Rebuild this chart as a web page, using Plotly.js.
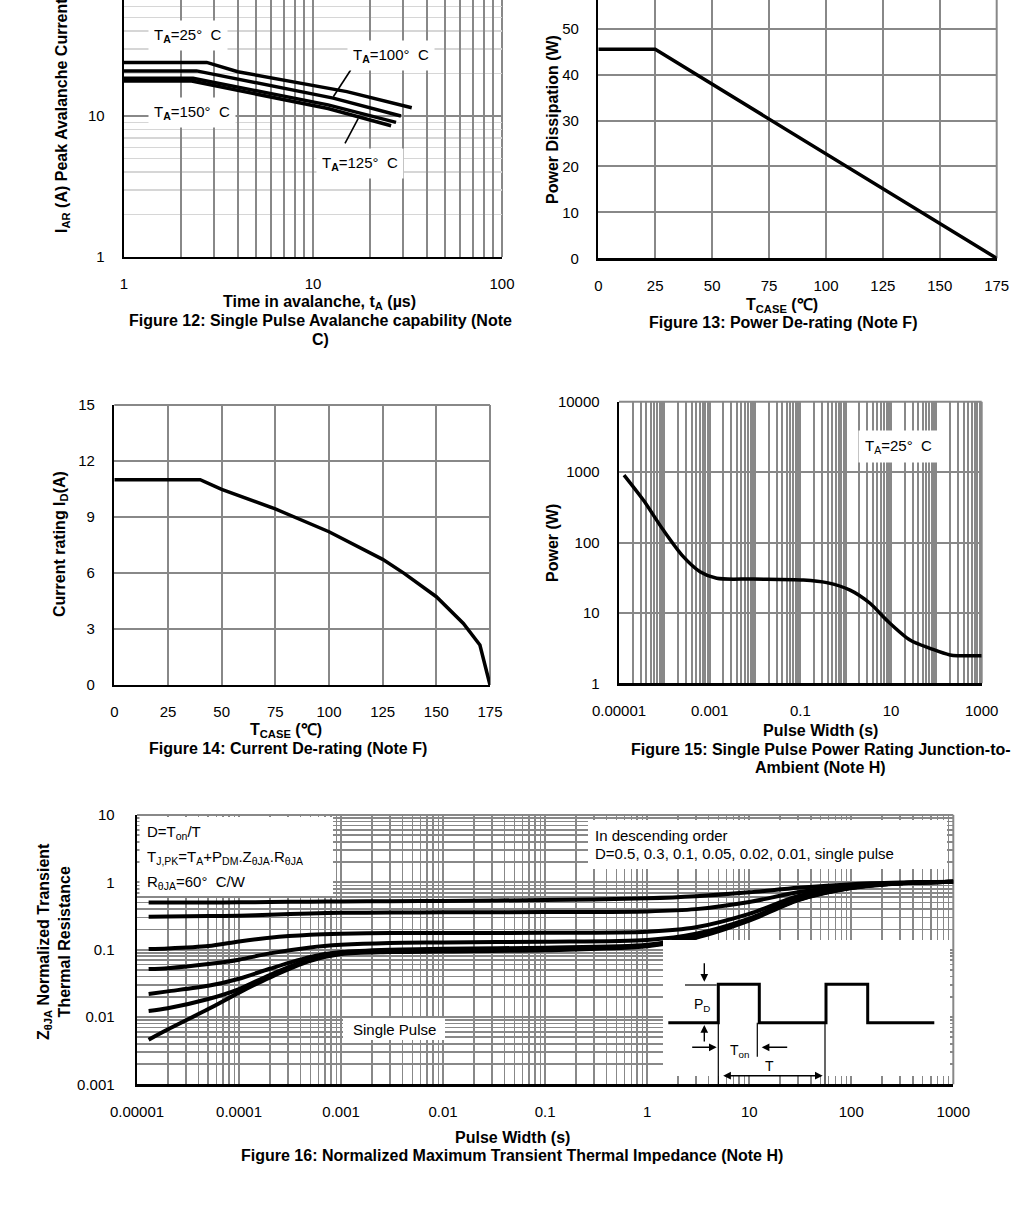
<!DOCTYPE html>
<html><head><meta charset="utf-8">
<script src="https://cdn.plot.ly/plotly-3.0.1.min.js"></script>
<style>html,body{margin:0;padding:0;background:#fff}</style>
</head><body><div id="chart" style="width:1029px;height:1209px"></div>
<script>
// ---------- Figure 12: Single pulse avalanche capability ----------
const f12_t25  = [1, 2.74, 4.0, 15.1, 33.3];
const f12_i25  = [24.0, 24.0, 20.6, 14.9, 11.45];
const f12_t100 = [1, 2.42, 12.8, 29.2];
const f12_i100 = [20.9, 20.9, 13.4, 10.0];
const f12_t125 = [1, 2.32, 12.0, 27.5];
const f12_i125 = [18.5, 18.5, 12.0, 9.02];
const f12_t150 = [1, 2.28, 12.0, 25.9];
const f12_i150 = [17.7, 17.7, 11.3, 8.54];
const f12_xlabels = [1, 10, 100];
const f12_ylabels = [1, 10];

// ---------- Figure 13: Power de-rating ----------
const f13_T = [0, 25, 175];
const f13_P = [45.5, 45.5, 0];
const f13_xticks = [0, 25, 50, 75, 100, 125, 150, 175];
const f13_yticks = [0, 10, 20, 30, 40, 50];

// ---------- Figure 14: Current de-rating ----------
const f14_T = [0, 40, 50, 75, 100, 125, 135, 150, 162.6, 170.3, 175];
const f14_I = [11, 11, 10.48, 9.43, 8.21, 6.73, 5.98, 4.73, 3.30, 2.14, 0];
const f14_xticks = [0, 25, 50, 75, 100, 125, 150, 175];
const f14_yticks = [0, 3, 6, 9, 12, 15];

// ---------- Figure 15: Single pulse power rating ----------
const f15_t = [1.29e-5, 3.44e-5, 9.5e-5, 2.62e-4, 6.12e-4, 1.43e-3, 9.2e-3, 0.116, 0.381, 1.25, 3.44, 8.0, 26.2, 72.4, 200, 1000];
const f15_p = [908, 401, 150, 62.9, 38.5, 31, 30.3, 29.3, 26.9, 21.1, 13.7, 7.9, 4.12, 3.14, 2.53, 2.47];
const f15_xlabels = [1e-5, 1e-3, 0.1, 10, 1000];
const f15_xlabeltext = ['0.00001', '0.001', '0.1', '10', '1000'];
const f15_ylabels = [1, 10, 100, 1000, 10000];

// ---------- Figure 16: Normalized transient thermal impedance ----------
const f16_t    = [1.3e-5, 2e-5, 5e-5, 1e-4, 2e-4, 5e-4, 1e-3, 3e-3, 1e-2, 0.1, 1, 3, 10, 30, 100, 300, 1000];
const f16_d05  = [0.50, 0.50, 0.50, 0.505, 0.51, 0.515, 0.52, 0.525, 0.53, 0.546, 0.578, 0.62, 0.71, 0.83, 0.94, 0.99, 1.02];
const f16_d03  = [0.308, 0.31, 0.315, 0.32, 0.33, 0.345, 0.352, 0.355, 0.358, 0.362, 0.37, 0.40, 0.51, 0.71, 0.88, 0.97, 1.02];
const f16_d01  = [0.102, 0.104, 0.113, 0.132, 0.150, 0.166, 0.172, 0.176, 0.177, 0.178, 0.185, 0.215, 0.34, 0.62, 0.86, 0.97, 1.02];
const f16_d005 = [0.0515, 0.053, 0.061, 0.071, 0.088, 0.108, 0.118, 0.126, 0.128, 0.131, 0.139, 0.172, 0.29, 0.57, 0.84, 0.97, 1.02];
const f16_d002 = [0.022, 0.024, 0.029, 0.037, 0.052, 0.078, 0.092, 0.100, 0.103, 0.107, 0.118, 0.16, 0.28, 0.56, 0.83, 0.97, 1.02];
const f16_d001 = [0.0123, 0.0135, 0.0185, 0.026, 0.042, 0.072, 0.088, 0.096, 0.099, 0.103, 0.115, 0.155, 0.28, 0.55, 0.83, 0.97, 1.02];
const f16_sp   = [0.0046, 0.0065, 0.0131, 0.023, 0.0385, 0.068, 0.086, 0.092, 0.094, 0.098, 0.112, 0.15, 0.27, 0.54, 0.82, 0.96, 1.02];
const f16_xlabels = [1e-5, 1e-4, 1e-3, 1e-2, 0.1, 1, 10, 100, 1000];
const f16_xlabeltext = ['0.00001', '0.0001', '0.001', '0.01', '0.1', '1', '10', '100', '1000'];
const f16_ylabels = [0.001, 0.01, 0.1, 1, 10];
const f16_ylabeltext = ['0.001', '0.01', '0.1', '1', '10'];

// ---------- helpers ----------
const W = 1029, H = 1209;
const FONT = 'Liberation Sans, Arial, Helvetica, sans-serif';
const GRID = '#888888';
const GW = 2;
const xd = (a, b) => [a / W, b / W];
const yd = (top, bot) => [1 - bot / H, 1 - top / H];
const px = x => x / W;
const py = y => 1 - y / H;

function logGrid(e0, e1) {
  const v = [];
  for (let k = e0; k < e1; k++) for (let d = 1; d < 10; d++) v.push(d * Math.pow(10, k));
  v.push(Math.pow(10, e1));
  return v;
}
function labelsFor(vals, labVals, labText) {
  return vals.map(v => {
    const i = labVals.findIndex(l => Math.abs(Math.log10(l) - Math.log10(v)) < 1e-6);
    return i >= 0 ? (labText ? labText[i] : String(labVals[i])) : '';
  });
}
function axis(domain, anchor, extra) {
  return Object.assign({
    domain, anchor, showline: true, linecolor: '#000', linewidth: 2.4,
    showgrid: true, gridcolor: GRID, gridwidth: GW, zeroline: false, ticks: '',
    tickfont: {family: FONT, size: 15, color: '#000'}, fixedrange: true
  }, extra);
}
function line(x, y, xa, ya, w, spline) {
  return {x, y, xaxis: xa, yaxis: ya, type: 'scatter', mode: 'lines', hoverinfo: 'skip',
    line: {color: '#000', width: w, shape: spline ? 'spline' : 'linear', smoothing: 0.8}};
}

const g12x = logGrid(0, 2);
const g12yMinor = [2,3,4,5,6,7,8,9,20,30,40,50,60];
const g15x = logGrid(-5, 3);
const g16x = logGrid(-5, 3);
const g16y = logGrid(-3, 1);

const traces = [
  line(f12_t25, f12_i25, 'x', 'y', 3.5),
  line(f12_t100, f12_i100, 'x', 'y', 3.5),
  line(f12_t125, f12_i125, 'x', 'y', 3.5),
  line(f12_t150, f12_i150, 'x', 'y', 3.5),
  line(f13_T, f13_P, 'x2', 'y2', 3.5),
  line(f14_T, f14_I, 'x3', 'y3', 3.5),
  line(f15_t, f15_p, 'x4', 'y4', 3.5, true),
  line(f16_t, f16_d05, 'x5', 'y5', 4, true),
  line(f16_t, f16_d03, 'x5', 'y5', 4, true),
  line(f16_t, f16_d01, 'x5', 'y5', 4, true),
  line(f16_t, f16_d005, 'x5', 'y5', 4, true),
  line(f16_t, f16_d002, 'x5', 'y5', 4, true),
  line(f16_t, f16_d001, 'x5', 'y5', 4, true),
  line(f16_t, f16_sp, 'x5', 'y5', 4, true)
];

const XS = 12, YS = 14;
const layout = {
  width: W, height: H, margin: {l: 0, r: 0, t: 0, b: 0},
  paper_bgcolor: '#fff', plot_bgcolor: '#fff', showlegend: false,
  font: {family: FONT, size: 15, color: '#000'},
  xaxis: axis(xd(124, 502), 'y', {type: 'log', range: [0, 2], tickmode: 'array', tickvals: g12x,
    ticktext: labelsFor(g12x, f12_xlabels), ticklabelstandoff: XS}),
  yaxis: axis(yd(0, 257), 'x', {type: 'log', range: [0, 1.823], tickmode: 'array', tickvals: f12_ylabels,
    ticktext: f12_ylabels.map(String), ticklabelstandoff: YS,
    minor: {tickmode: 'array', tickvals: g12yMinor, showgrid: true, gridcolor: '#d6d6d6', gridwidth: 1.6, ticks: ''}}),
  xaxis2: axis(xd(598.3, 996.7), 'y2', {range: [0, 175], tickmode: 'array', tickvals: f13_xticks, ticklabelstandoff: XS}),
  yaxis2: axis(yd(0, 258.3), 'x2', {range: [0, 56.25], tickmode: 'array', tickvals: f13_yticks, ticklabelstandoff: YS}),
  xaxis3: axis(xd(114.3, 490), 'y3', {range: [0, 175], tickmode: 'array', tickvals: f14_xticks, ticklabelstandoff: XS}),
  yaxis3: axis(yd(405, 685), 'x3', {range: [0, 15], tickmode: 'array', tickvals: f14_yticks, ticklabelstandoff: YS}),
  xaxis4: axis(xd(619, 981.7), 'y4', {type: 'log', range: [-5, 3], tickmode: 'array', tickvals: g15x,
    ticktext: labelsFor(g15x, f15_xlabels, f15_xlabeltext), ticklabelstandoff: XS}),
  yaxis4: axis(yd(401.7, 683.3), 'x4', {type: 'log', range: [0, 4], tickmode: 'array', tickvals: f15_ylabels,
    ticktext: f15_ylabels.map(String), ticklabelstandoff: YS}),
  xaxis5: axis(xd(137, 953.3), 'y5', {type: 'log', range: [-5, 3], tickmode: 'array', tickvals: g16x,
    ticktext: labelsFor(g16x, f16_xlabels, f16_xlabeltext), ticklabelstandoff: XS, gridwidth: 1.7}),
  yaxis5: axis(yd(815, 1084.3), 'x5', {type: 'log', range: [-3, 1], tickmode: 'array', tickvals: g16y,
    ticktext: labelsFor(g16y, f16_ylabels, f16_ylabeltext), ticklabelstandoff: 17, gridwidth: 1.7}),
  shapes: [],
  annotations: []
};

// gray frame edges (right / top) of each plot area
function edge(xa, ya, x0, y0, x1, y1) {
  layout.shapes.push({type: 'line', xref: xa + ' domain', yref: ya + ' domain', x0, y0, x1, y1,
    line: {color: GRID, width: GW}, layer: 'below'});
}
edge('x', 'y', 1, 0, 1, 1);
edge('x2', 'y2', 1, 0, 1, 1);
edge('x3', 'y3', 1, 0, 1, 1); edge('x3', 'y3', 0, 1, 1, 1);
edge('x4', 'y4', 1, 0, 1, 1); edge('x4', 'y4', 0, 1, 1, 1);
edge('x5', 'y5', 1, 0, 1, 1); edge('x5', 'y5', 0, 1, 1, 1);

function txt(t, x, y, opt) {
  layout.annotations.push(Object.assign({text: t, x: px(x), y: py(y), xref: 'paper', yref: 'paper',
    showarrow: false, xanchor: 'center', yanchor: 'middle', font: {family: FONT, size: 15, color: '#000'}}, opt || {}));
}
const BOLD = {font: {family: FONT, size: 16, color: '#000'}};
function btxt(t, x, y, opt) { txt('<b>' + t + '</b>', x, y, Object.assign({}, BOLD, opt || {})); }
function rect(x0, y0, x1, y1) {
  layout.shapes.push({type: 'rect', xref: 'paper', yref: 'paper', x0: px(x0), x1: px(x1), y0: py(y1), y1: py(y0),
    fillcolor: '#fff', line: {width: 0}, layer: 'above'});
}
function seg(x0, y0, x1, y1, w) {
  layout.shapes.push({type: 'line', xref: 'paper', yref: 'paper', x0: px(x0), x1: px(x1), y0: py(y0), y1: py(y1),
    line: {color: '#000', width: w}, layer: 'above'});
}
function arrow(hx, hy, ax, ay, both) {
  layout.annotations.push({text: '', x: px(hx), y: py(hy), xref: 'paper', yref: 'paper', showarrow: true,
    ax, ay, arrowhead: 2, arrowsize: 1.1, arrowwidth: 1.4, arrowcolor: '#000', arrowside: both ? 'end+start' : 'end', standoff: 0, startstandoff: 0});
}

// Figure 12 texts
const boxed = {bgcolor: '#fff', borderpad: 5};
txt('T<sub><b>A</b></sub>=25°\u00a0 C', 188, 35, boxed);
txt('T<sub><b>A</b></sub>=100°\u00a0 C', 391, 56, boxed);
txt('T<sub><b>A</b></sub>=150°\u00a0 C', 192, 112.7, boxed);
txt('T<sub><b>A</b></sub>=125°\u00a0 C', 360, 163.3, boxed);
seg(350.7, 70, 333.3, 96.7, 1.6);
seg(345, 143.3, 358.3, 118.3, 1.6);
btxt('Time in avalanche, t<sub>A</sub> (µs)', 319, 302);
btxt('Figure 12: Single Pulse Avalanche capability (Note', 320, 321);
btxt('C)', 320, 339);
btxt('I<sub>AR</sub> (A) Peak Avalanche Current', 62, 116, {textangle: -90});

// Figure 13 texts
btxt('T<sub>CASE</sub> (℃)', 782, 306);
btxt('Figure 13: Power De-rating (Note F)', 783, 323);
btxt('Power Dissipation (W)', 552, 120, {textangle: -90});

// Figure 14 texts
btxt('T<sub>CASE</sub> (℃)', 286, 730);
btxt('Figure 14: Current De-rating (Note F)', 287.5, 748);
btxt('Current rating I<sub>D</sub>(A)', 60, 544, {textangle: -90});

// Figure 15 texts
txt('T<sub>A</sub>=25°\u00a0 C', 898, 446.7, {bgcolor: '#fff', borderpad: 6});
btxt('Pulse Width (s)', 820, 730);
btxt('Figure 15: Single Pulse Power Rating Junction-to-', 820.5, 749);
btxt('Ambient (Note H)', 820.5, 767);
btxt('Power (W)', 552, 543, {textangle: -90});

// Figure 16 texts and boxes
rect(139.5, 817, 333, 896);
txt('D=T<sub>on</sub>/T', 145, 833, {xanchor: 'left'});
txt('T<sub>J,PK</sub>=T<sub>A</sub>+P<sub>DM</sub>.Z<sub>θJA</sub>.R<sub>θJA</sub>', 145, 857, {xanchor: 'left'});
txt('R<sub>θJA</sub>=60°\u00a0 C/W', 145, 882, {xanchor: 'left'});
rect(588, 820, 947, 869);
txt('In descending order', 593, 835, {xanchor: 'left'});
txt('D=0.5, 0.3, 0.1, 0.05, 0.02, 0.01, single pulse', 593, 853, {xanchor: 'left'});
rect(343, 1018, 445, 1040);
txt('Single Pulse', 394, 1029);
// pulse diagram
rect(663, 940, 950, 1076);
const wave = [[668.3,1022.7],[718.3,1022.7],[718.3,984.3],[759.3,984.3],[759.3,1022.7],[826,1022.7],[826,984.3],[867.7,984.3],[867.7,1022.7],[934.3,1022.7]];
layout.shapes.push({type: 'path', xref: 'paper', yref: 'paper', layer: 'above',
  path: wave.map((p, i) => (i ? 'L' : 'M') + px(p[0]) + ',' + py(p[1])).join(' '),
  line: {color: '#000', width: 3}});
seg(718.3, 1022.7, 718.3, 1086.7, 1.2);
seg(757.3, 1022.7, 757.3, 1056.7, 1.2);
seg(825, 1022.7, 825, 1086.7, 1.2);
seg(685, 985, 716.7, 985, 1.2);
arrow(704.3, 981.7, 0, -20);
arrow(704.3, 1025, 0, 18);
arrow(716.7, 1047.3, -26, 0);
arrow(761.7, 1047.3, 27, 0);
arrow(822.7, 1075.7, -101, 0, true);
txt('P<sub>D</sub>', 702, 1005, {font: {family: FONT, size: 14, color: '#000'}});
txt('T<sub>on</sub>', 739, 1051, {font: {family: FONT, size: 14, color: '#000'}});
txt('T', 769, 1066, {font: {family: FONT, size: 14, color: '#000'}});
btxt('Pulse Width (s)', 512, 1137);
btxt('Figure 16: Normalized Maximum Transient Thermal Impedance (Note H)', 512, 1155);
btxt('Z<sub>θJA</sub> Normalized Transient<br>Thermal Resistance', 54, 942, {textangle: -90});

Plotly.newPlot('chart', traces, layout, {staticPlot: true, displayModeBar: false});
</script></body></html>
